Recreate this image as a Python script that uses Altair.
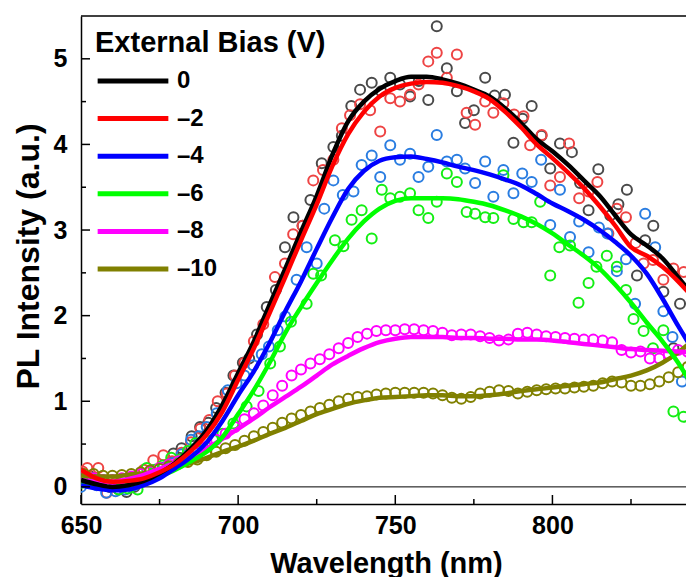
import altair as alt
import pandas as pd

# ---------------- series definitions ----------------
BIAS = ["0", "–2", "–4", "–6", "–8", "–10"]
LINE_COLORS = ["#000000", "#ff0000", "#0000ff", "#00ff00", "#ff00ff", "#808000"]
POINT_COLORS = ["#4a4a4a", "#ee4444", "#2a7de1", "#14ee14", "#ff00ff", "#808000"]

# smoothed spectra, sampled every 5 nm (650 ... 845 nm)
FIT_WL = [650, 655, 660, 665, 670, 675, 680, 685, 690, 695,
          700, 705, 710, 715, 720, 725, 730, 735, 740, 745,
          750, 755, 760, 765, 770, 775, 780, 785, 790, 795,
          800, 805, 810, 815, 820, 825, 830, 835, 840, 845]
FIT_0V = [0.08, 0.03, 0.00, 0.02, 0.07, 0.16, 0.28, 0.45, 0.66, 0.96,
          1.33, 1.70, 2.13, 2.55, 2.98, 3.40, 3.88, 4.27, 4.50, 4.65,
          4.74, 4.79, 4.79, 4.76, 4.71, 4.64, 4.56, 4.42, 4.25, 4.06,
          3.92, 3.76, 3.58, 3.40, 3.17, 2.95, 2.82, 2.67, 2.45, 2.22]
FIT_M2V = [0.20, 0.10, 0.06, 0.07, 0.10, 0.17, 0.27, 0.42, 0.61, 0.88,
           1.25, 1.62, 2.03, 2.45, 2.88, 3.30, 3.75, 4.12, 4.38, 4.56,
           4.66, 4.71, 4.73, 4.72, 4.68, 4.62, 4.53, 4.38, 4.20, 4.00,
           3.84, 3.67, 3.49, 3.28, 3.05, 2.80, 2.70, 2.57, 2.40, 2.20]
FIT_M4V = [0.02, -0.02, -0.04, -0.03, 0.02, 0.10, 0.22, 0.35, 0.52, 0.77,
           1.07, 1.35, 1.68, 2.05, 2.40, 2.78, 3.15, 3.48, 3.69, 3.81,
           3.85, 3.86, 3.83, 3.79, 3.74, 3.70, 3.65, 3.59, 3.52, 3.42,
           3.31, 3.22, 3.12, 3.00, 2.86, 2.70, 2.49, 2.20, 1.88, 1.58]
FIT_M6V = [0.05, 0.00, -0.02, 0.00, 0.05, 0.12, 0.20, 0.30, 0.41, 0.58,
           0.85, 1.13, 1.45, 1.80, 2.10, 2.38, 2.65, 2.90, 3.10, 3.25,
           3.34, 3.37, 3.37, 3.37, 3.36, 3.33, 3.29, 3.23, 3.16, 3.07,
           2.96, 2.83, 2.70, 2.55, 2.36, 2.15, 1.92, 1.70, 1.45, 1.15]
FIT_M8V = [0.08, 0.06, 0.06, 0.09, 0.14, 0.21, 0.28, 0.36, 0.45, 0.56,
           0.68, 0.80, 0.93, 1.05, 1.17, 1.30, 1.43, 1.53, 1.62, 1.69,
           1.73, 1.75, 1.75, 1.75, 1.74, 1.74, 1.73, 1.73, 1.72, 1.72,
           1.71, 1.69, 1.67, 1.65, 1.63, 1.61, 1.60, 1.59, 1.58, 1.57]
FIT_M10V = [0.14, 0.12, 0.12, 0.14, 0.16, 0.19, 0.23, 0.28, 0.34, 0.41,
            0.47, 0.54, 0.62, 0.69, 0.77, 0.85, 0.91, 0.97, 1.01, 1.04,
            1.05, 1.06, 1.07, 1.07, 1.06, 1.06, 1.07, 1.09, 1.12, 1.14,
            1.16, 1.18, 1.20, 1.22, 1.26, 1.30, 1.36, 1.45, 1.57, 1.72]

# measured spectra (open circles)
PTS_0V_WL = [650.5, 653, 656, 659, 662, 664.5, 667, 670, 673, 676,
             679.4, 682, 685.2, 687.9, 690.5, 693, 696, 698.5, 701.5, 703.5,
             706, 709.1, 712, 714.9, 717.6, 720.5, 723, 726.6, 730.3, 733,
             736, 738.8, 742.5, 745.5, 748.4, 751.5, 754.7, 757.5, 760.5, 763.2,
             766.4, 769.6, 772.2, 775, 778.6, 781.6, 784.9, 787.6, 790.5, 793.4,
             796.5, 799.3, 802.4, 806.2, 808.8, 811.5, 814.6, 818.4, 821, 823.7,
             826.9, 829.5, 832.1, 835.3, 838.5, 840.6]
PTS_0V = [0.10, 0.12, 0.05, 0.00, -0.03, -0.06, 0.00, 0.08, 0.15, 0.22,
          0.39, 0.45, 0.59, 0.70, 0.75, 0.92, 1.10, 1.30, 1.45, 1.50,
          1.78, 2.10, 2.30, 2.80, 3.15, 3.05, 3.35, 3.78, 3.97, 4.10,
          4.45, 4.64, 4.72, 4.62, 4.78, 4.70, 4.56, 4.74, 4.52, 5.38,
          4.89, 4.62, 4.25, 4.40, 4.78, 4.57, 4.58, 4.02, 4.30, 4.45,
          4.10, 3.72, 4.01, 3.91, 3.55, 3.23, 3.71, 3.17, 3.30, 3.47,
          2.47, 2.88, 3.05, 2.28, 1.62, 2.14]

PTS_M2V_WL = [650.5, 652, 655.5, 658.2, 661, 664, 667, 670, 673, 676.2,
              679, 682, 685, 688, 690.8, 693.5, 696.4, 699, 702, 705,
              708, 711.7, 714.9, 717.5, 720.5, 723.9, 727, 730.3, 733, 735.6,
              738.8, 742, 745.2, 748.4, 751.5, 754.7, 757.4, 760.5, 763.2, 766.4,
              769.6, 772.7, 775.4, 778.6, 781.2, 784.4, 787.8, 790.8, 792.9, 796.6,
              799.3, 802.4, 805.3, 808.5, 811.5, 814.3, 817.8, 820.5, 823.4, 826.5,
              829, 832, 835.3, 838.5, 841.8]
PTS_M2V = [0.18, 0.22, 0.22, -0.07, 0.05, 0.08, 0.12, 0.20, 0.31, 0.37,
           0.30, 0.40, 0.52, 0.68, 0.78, 1.00, 1.09, 1.30, 1.45, 1.70,
           1.90, 2.45, 2.61, 2.95, 3.05, 3.58, 3.70, 3.82, 4.19, 4.34,
           4.47, 4.40, 4.15, 4.54, 4.50, 4.58, 4.70, 4.97, 5.07, 4.78,
           5.05, 4.37, 4.23, 4.50, 4.37, 4.48, 4.35, 4.33, 3.99, 4.11,
           3.52, 3.62, 4.01, 3.37, 3.45, 3.56, 2.96, 3.25, 3.15, 2.85,
           2.61, 2.65, 2.42, 2.55, 2.51]

PTS_M4V_WL = [650, 652.5, 655, 658, 661, 664, 667, 670, 673, 676,
              679, 682, 685, 687.5, 690, 693.2, 696.7, 699.5, 702, 704.8,
              707.5, 709.8, 712.6, 715, 718.6, 721.8, 725, 727.4, 730.3, 733.3,
              736.7, 739.3, 742.5, 745.2, 748.4, 751.5, 754.7, 757.4, 760.5, 763.2,
              766.4, 769.6, 772.2, 775.4, 778.6, 781.2, 784.4, 787.6, 790.4, 793.4,
              796.4, 799.3, 802.4, 805.6, 808.5, 811.5, 814.8, 817.5, 820.5, 823.4,
              826.3, 829.5, 832.7, 835.3, 838.2, 841.2]
PTS_M4V = [0.00, 0.05, 0.02, -0.07, -0.05, -0.03, 0.02, 0.08, 0.14, 0.22,
           0.28, 0.38, 0.55, 0.59, 0.70, 0.86, 1.13, 1.21, 1.30, 1.42,
           1.55, 1.64, 1.83, 1.99, 2.42, 2.80, 2.61, 3.25, 3.58, 3.41,
           3.45, 3.76, 3.87, 3.62, 3.99, 3.82, 3.89, 3.62, 3.74, 4.11,
           3.80, 3.82, 3.72, 3.55, 3.80, 3.39, 3.70, 3.43, 3.66, 3.56,
           3.82, 3.06, 3.47, 2.92, 3.10, 2.74, 3.03, 2.96, 2.52, 2.66,
           2.14, 3.19, 2.80, 2.05, 1.75, 1.23]

PTS_M6V_WL = [650.5, 653, 656, 659, 662, 665, 668, 670.9, 673.5, 676,
              678.7, 681.5, 684, 686.4, 689, 692, 695, 698.5, 702.7, 706.5,
              710.2, 713.3, 716.8, 721.8, 723.9, 726.4, 730.8, 733.5, 736.1, 739.3,
              742.5, 745.7, 748.4, 751.5, 754.7, 757.4, 760.5, 763.2, 766.4, 769.6,
              772.7, 775.4, 778.6, 781.2, 784.4, 787.6, 790.8, 793.4, 796.1, 799.3,
              802.2, 805.6, 808.3, 811.5, 814, 817.3, 820.5, 823.4, 825.8, 829,
              832, 835.3, 838.5, 841.7]
PTS_M6V = [0.05, 0.08, 0.08, 0.02, -0.03, -0.02, -0.03, 0.22, 0.20, 0.25,
           0.34, 0.32, 0.42, 0.51, 0.45, 0.55, 0.62, 0.74, 0.94, 1.12,
           1.44, 1.64, 1.93, 2.14, 2.49, 2.47, 2.88, 2.81, 3.12, 3.23,
           2.90, 3.47, 3.37, 3.39, 3.43, 3.23, 3.14, 3.33, 3.66, 3.56,
           3.21, 3.19, 3.15, 3.14, 3.64, 3.13, 3.09, 3.09, 3.33, 2.47,
           2.80, 2.82, 2.15, 2.38, 2.57, 2.70, 2.57, 2.30, 1.96, 1.82,
           1.62, 1.83, 0.88, 0.82]

# low-noise spectra recorded on a 3 nm step
SCAN_WL = list(range(651, 844, 3))
PTS_M8V = [0.12, 0.10, 0.08, 0.08, 0.10, 0.12, 0.15, 0.18, 0.22, 0.26,
           0.30, 0.35, 0.40, 0.47, 0.55, 0.62, 0.70, 0.79, 0.86, 0.95,
           1.07, 1.18, 1.30, 1.37, 1.44, 1.49, 1.55, 1.62, 1.68, 1.75,
           1.79, 1.82, 1.83, 1.83, 1.84, 1.84, 1.83, 1.82, 1.80, 1.77,
           1.78, 1.78, 1.76, 1.74, 1.71, 1.72, 1.79, 1.80, 1.78, 1.76,
           1.75, 1.74, 1.73, 1.72, 1.72, 1.71, 1.69, 1.60, 1.57, 1.58,
           1.50, 1.50, 1.55, 1.60, 1.58]
PTS_M10V = [0.15, 0.15, 0.13, 0.13, 0.14, 0.15, 0.17, 0.19, 0.21, 0.24,
            0.27, 0.29, 0.32, 0.37, 0.41, 0.45, 0.49, 0.54, 0.59, 0.64,
            0.69, 0.75, 0.80, 0.84, 0.88, 0.92, 0.96, 1.00, 1.03, 1.05,
            1.06, 1.08, 1.09, 1.10, 1.10, 1.10, 1.10, 1.09, 1.07, 1.04,
            1.03, 1.05, 1.09, 1.11, 1.13, 1.12, 1.09, 1.11, 1.13, 1.14,
            1.15, 1.15, 1.16, 1.17, 1.18, 1.21, 1.23, 1.22, 1.18, 1.18,
            1.20, 1.23, 1.28, 1.34, 1.40]

# axis ticks
X_MAJOR = [650, 700, 750, 800]
X_MINOR = [675, 725, 775, 825]
Y_MAJOR = [0, 1, 2, 3, 4, 5]
Y_MINOR = [0.5, 1.5, 2.5, 3.5, 4.5]

# ---------------- layout ----------------
PLOT_W, PLOT_H = 605, 488
X_DOMAIN = [650, 842.5]
Y_DOMAIN = [-0.2, 5.5]
FONT = "Liberation Sans"

# ---------------- tables ----------------
pts_sets = [
    (BIAS[0], PTS_0V_WL, PTS_0V),
    (BIAS[1], PTS_M2V_WL, PTS_M2V),
    (BIAS[2], PTS_M4V_WL, PTS_M4V),
    (BIAS[3], PTS_M6V_WL, PTS_M6V),
    (BIAS[4], SCAN_WL, PTS_M8V),
    (BIAS[5], SCAN_WL, PTS_M10V),
]
rows = []
for bias, wls, vals in pts_sets:
    for w, v in zip(wls, vals):
        rows.append({"wl": w, "pl": v, "bias": bias})
pts_df = pd.DataFrame(rows)

# drawing order of the fitted curves (last one ends up on top)
fit_sets = [
    (BIAS[5], FIT_M10V),
    (BIAS[4], FIT_M8V),
    (BIAS[3], FIT_M6V),
    (BIAS[2], FIT_M4V),
    (BIAS[0], FIT_0V),
    (BIAS[1], FIT_M2V),
]
rows = []
for bias, vals in fit_sets:
    for w, v in zip(FIT_WL, vals):
        rows.append({"wl": w, "pl": v, "bias": bias})
fit_df = pd.DataFrame(rows)

# ---------------- shared encodings ----------------
x_axis = alt.Axis(
    values=X_MAJOR, ticks=False, grid=False, labelFlush=False, labelOverlap=False,
    domainColor="black", domainWidth=1.5,
    labelFont=FONT, labelFontSize=25, labelFontWeight="bold", labelColor="black",
    labelPadding=9,
    title="Wavelength (nm)", titleFont=FONT, titleFontSize=29, titleFontWeight="bold",
    titleColor="black", titleX=305, titleY=68, titleBaseline="alphabetic",
    titleAlign="center",
)
y_axis = alt.Axis(
    values=Y_MAJOR, ticks=False, grid=False, labelFlush=False, labelOverlap=False,
    domainColor="black", domainWidth=1.5,
    labelFont=FONT, labelFontSize=25, labelFontWeight="bold", labelColor="black",
    labelPadding=14,
    title="PL Intensity (a.u.)", titleFont=FONT, titleFontSize=32, titleFontWeight="bold",
    titleColor="black", titleX=-53, titleY=240, titleBaseline="middle",
    titleAlign="center", titleAngle=270,
)
X = alt.X("wl:Q", scale=alt.Scale(domain=X_DOMAIN, nice=False, zero=False), axis=x_axis)
Y = alt.Y("pl:Q", scale=alt.Scale(domain=Y_DOMAIN, nice=False, zero=False), axis=y_axis)

points = alt.Chart(pts_df).mark_point(
    shape="circle", filled=False, size=100, strokeWidth=2, opacity=1, clip=True
).encode(
    x=X, y=Y,
    color=alt.Color("bias:N", scale=alt.Scale(domain=BIAS, range=POINT_COLORS), legend=None),
)

fits = alt.Chart(fit_df).mark_line(
    strokeWidth=4.5, interpolate="monotone", clip=True
).encode(
    x=X, y=Y,
    color=alt.Color(
        "bias:N",
        scale=alt.Scale(domain=BIAS, range=LINE_COLORS),
        legend=alt.Legend(
            title="External Bias (V)", orient="none", legendX=14, legendY=13,
            direction="vertical", padding=0,
            titleFont=FONT, titleFontSize=29, titleFontWeight="bold", titleColor="black",
            titlePadding=8, titleLimit=500,
            labelFont=FONT, labelFontSize=24, labelFontWeight="bold", labelColor="black",
            labelOffset=6, labelLimit=200,
            symbolType="stroke", symbolSize=5000, symbolStrokeWidth=5,
            clipHeight=30, rowPadding=7.6,
        ),
    ),
    detail="bias:N",
)

zero_line = alt.Chart(pd.DataFrame({"pl": [0]})).mark_rule(
    color="black", strokeWidth=1
).encode(y=Y)

top_border = alt.Chart(pd.DataFrame({"pl": [0]})).mark_rule(
    color="black", strokeWidth=1.5
).encode(y=alt.value(0))

y_major = alt.Chart(pd.DataFrame({"pl": Y_MAJOR})).mark_rule(
    color="black", strokeWidth=1.5
).encode(y=Y, x=alt.value(0), x2=alt.value(9))
y_minor = alt.Chart(pd.DataFrame({"pl": Y_MINOR})).mark_rule(
    color="black", strokeWidth=1.5
).encode(y=Y, x=alt.value(0), x2=alt.value(5))
x_major = alt.Chart(pd.DataFrame({"wl": X_MAJOR})).mark_rule(
    color="black", strokeWidth=1.5
).encode(x=X, y=alt.value(PLOT_H), y2=alt.value(PLOT_H - 9))
x_minor = alt.Chart(pd.DataFrame({"wl": X_MINOR})).mark_rule(
    color="black", strokeWidth=1.5
).encode(x=X, y=alt.value(PLOT_H), y2=alt.value(PLOT_H - 5))

chart = alt.layer(
    zero_line, points, fits, top_border, y_major, y_minor, x_major, x_minor
).resolve_scale(
    color="independent"
).properties(
    width=PLOT_W, height=PLOT_H,
    padding={"left": 81, "top": 16, "right": 0, "bottom": 73},
    autosize=alt.AutoSizeParams(type="none"),
    background="white",
).configure_view(stroke=None)

chart.save("out.html", embed_options={"renderer": "svg", "actions": False})
